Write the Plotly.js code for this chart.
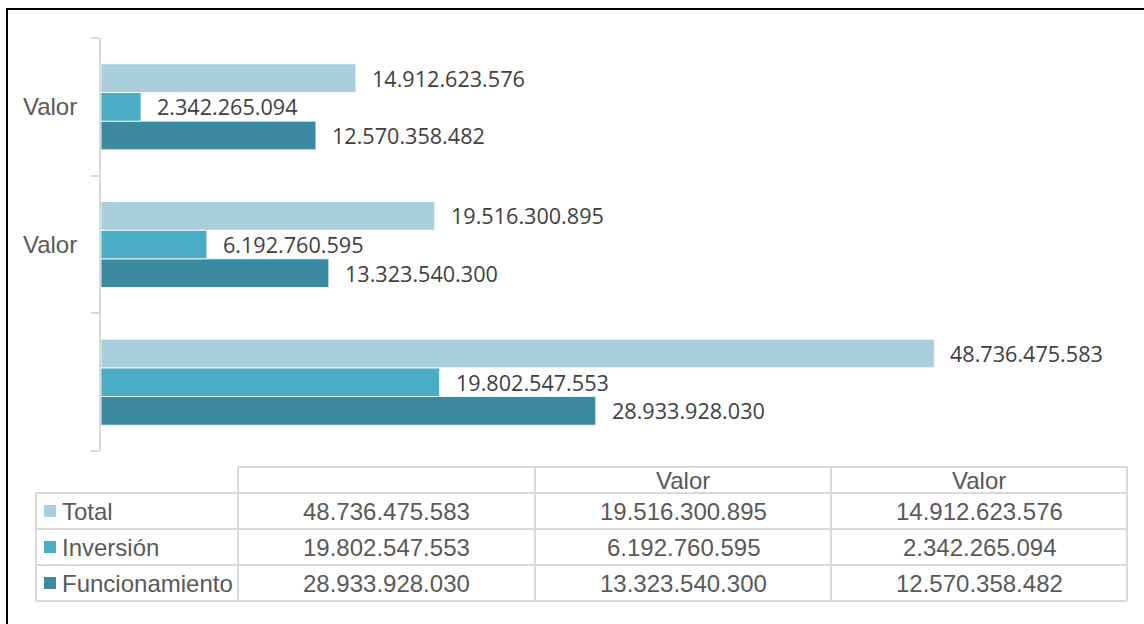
<!DOCTYPE html>
<html>
<head>
<meta charset="utf-8">
<script src="https://cdn.plot.ly/plotly-3.0.1.min.js"></script>
<style>html,body{margin:0;padding:0;background:#fff;}#chart{width:1144px;height:624px;}</style>
</head>
<body>
<div id="chart"></div>
<script>
// ---- data ----
const categories = ["", "Valor", "Valor"];
const seriesNames = ["Total", "Inversión", "Funcionamiento"];
const total = [48736475583, 19516300895, 14912623576];
const inversion = [19802547553, 6192760595, 2342265094];
const funcionamiento = [28933928030, 13323540300, 12570358482];
const colors = ["#a9cfdd", "#4bacc6", "#3c8aa2"];

// ---- helpers ----
function fmt(v) {
  return String(Math.round(v)).replace(/\B(?=(\d{3})+(?!\d))/g, ".");
}
const W = 1144, Hh = 624;
const L = 101, R = 17, T = 38, B = 173;
const PW = W - L - R, PH = Hh - T - B;
const px = x => (x - L) / PW;
const py = y => (T + PH - y) / PH;

const seriesVals = [total, inversion, funcionamiento];
const yPos = categories.map((c, i) => i);

// Plotly places the first trace lowest in a horizontal group, so add bottom->top
const order = [2, 1, 0];
const traces = order.map(k => ({
  type: "bar",
  orientation: "h",
  name: seriesNames[k],
  x: seriesVals[k],
  y: yPos,
  marker: {color: colors[k], line: {color: "#ffffff", width: 0.8}},
  hoverinfo: "x+name",
  showlegend: false
}));

// tick label helper trace on y2
traces.push({type: "scatter", x: [null], y: [null], yaxis: "y2", showlegend: false, hoverinfo: "skip"});

const bargap = 0.375;
const barW = (1 - bargap) / 3;
const offs = [barW, 0, -barW]; // Total top, Inversión middle, Funcionamiento bottom

const annotations = [];
seriesVals.forEach((vals, k) => {
  vals.forEach((v, i) => {
    annotations.push({
      x: v, y: i + offs[k], xref: "x", yref: "y",
      text: fmt(v), showarrow: false, xanchor: "left", yanchor: "middle",
      xshift: 14,
      font: {family: "Open Sans, Noto Sans, sans-serif", size: 21.6, color: "#404040"}
    });
  });
});

// ---- data table (drawn from the same arrays) ----
const colX = [36, 238, 535, 831, 1127];
const rowY = [467, 493, 529, 565, 601];
const gridColor = "#d9d9d9";
const shapes = [];
const line = (x0, y0, x1, y1) => shapes.push({
  type: "line", xref: "paper", yref: "paper",
  x0: px(x0), y0: py(y0), x1: px(x1), y1: py(y1),
  line: {color: gridColor, width: 2}
});
line(colX[1], rowY[0], colX[4], rowY[0]);
for (let r = 1; r < rowY.length; r++) line(colX[0], rowY[r], colX[4], rowY[r]);
line(colX[0], rowY[1], colX[0], rowY[4]);
for (let c = 1; c < colX.length; c++) line(colX[c], rowY[0], colX[c], rowY[4]);

const tFont = {family: "Liberation Sans, Arial, sans-serif", size: 24, color: "#595959"};
// header row
categories.forEach((c, i) => {
  annotations.push({
    xref: "paper", yref: "paper",
    x: px((colX[i + 1] + colX[i + 2]) / 2), y: py((rowY[0] + rowY[1]) / 2),
    text: c, showarrow: false, xanchor: "center", yanchor: "middle", font: tFont
  });
});
// body rows
seriesNames.forEach((name, k) => {
  const yc = (rowY[k + 1] + rowY[k + 2]) / 2;
  shapes.push({
    type: "rect", xref: "paper", yref: "paper",
    x0: px(44), x1: px(56), y0: py(yc - 6), y1: py(yc + 6),
    fillcolor: colors[k], line: {width: 0}
  });
  annotations.push({
    xref: "paper", yref: "paper", x: px(60), y: py(yc),
    text: name, showarrow: false, xanchor: "left", yanchor: "middle", font: tFont
  });
  seriesVals[k].forEach((v, i) => {
    annotations.push({
      xref: "paper", yref: "paper",
      x: px((colX[i + 1] + colX[i + 2]) / 2), y: py(yc),
      text: fmt(v), showarrow: false, xanchor: "center", yanchor: "middle", font: tFont
    });
  });
});

// outer frame
shapes.push({
  type: "rect", xref: "paper", yref: "paper",
  x0: px(7), y0: py(9), x1: px(1160), y1: py(640),
  line: {color: "#000000", width: 2}, fillcolor: "rgba(0,0,0,0)"
});

const layout = {
  width: W, height: Hh,
  margin: {l: L, r: R, t: T, b: B, pad: 0},
  paper_bgcolor: "#ffffff", plot_bgcolor: "#ffffff",
  barmode: "group", bargap: bargap, bargroupgap: 0,
  showlegend: false,
  xaxis: {range: [0, 60e9], visible: false, fixedrange: true},
  yaxis: {
    range: [-0.5, 2.5], tickvals: [-0.5, 0.5, 1.5, 2.5], showticklabels: false,
    ticks: "outside", ticklen: 8, tickwidth: 2, tickcolor: gridColor,
    showline: true, linecolor: gridColor, linewidth: 2,
    showgrid: false, zeroline: false, fixedrange: true
  },
  yaxis2: {
    overlaying: "y", side: "left", range: [-0.5, 2.5],
    tickvals: yPos, ticktext: categories,
    ticks: "outside", ticklen: 18, tickcolor: "rgba(0,0,0,0)",
    showline: false, showgrid: false, zeroline: false, fixedrange: true,
    tickfont: {family: "Liberation Sans, Arial, sans-serif", size: 24, color: "#595959"}
  },
  shapes: shapes,
  annotations: annotations
};

Plotly.newPlot("chart", traces, layout, {displayModeBar: false, staticPlot: true});
</script>
</body>
</html>
